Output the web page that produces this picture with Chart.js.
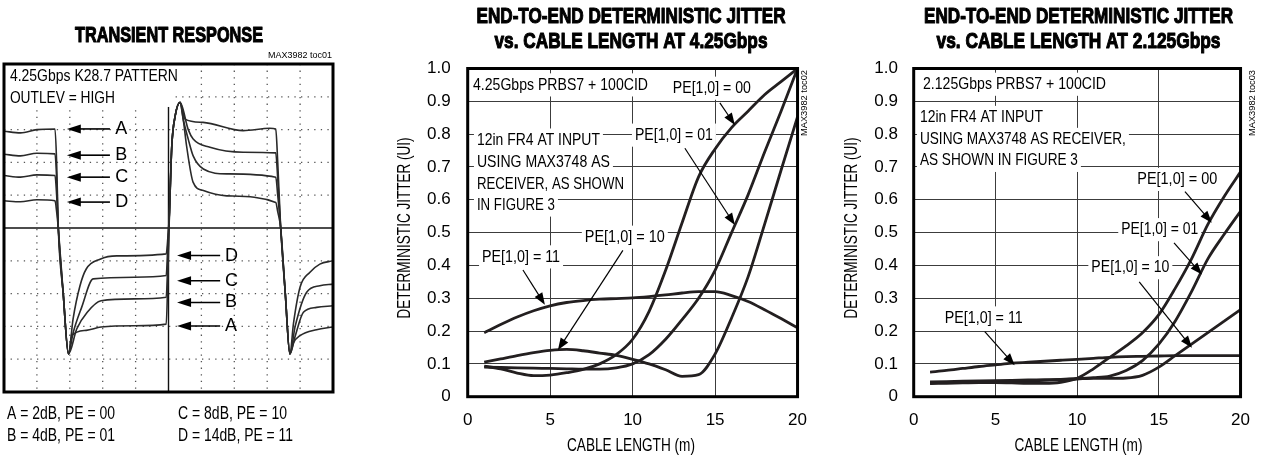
<!DOCTYPE html>
<html>
<head>
<meta charset="utf-8">
<script src="https://cdn.jsdelivr.net/npm/chart.js@4.4.1/dist/chart.umd.min.js"></script>
<style>
  body { margin: 0; background: #fff; width: 1263px; height: 456px; overflow: hidden; position: relative; }
  .panel { position: absolute; top: 0; height: 456px; }
</style>
</head>
<body>
<div class="panel" style="left:0;width:345px"><canvas id="scope"></canvas></div>
<div class="panel" style="left:380px;width:440px"><canvas id="jit425"></canvas></div>
<div class="panel" style="left:830px;width:433px"><canvas id="jit2125"></canvas></div>
<script>
// ---- data ----
const seriesLabels = ['PE[1,0] = 00', 'PE[1,0] = 01', 'PE[1,0] = 10', 'PE[1,0] = 11'];
const cableLength = [1, 2, 3, 4, 5, 6, 7, 8, 9, 10, 11, 12, 13, 14, 15, 16, 17, 18, 19, 20];

// 4.25Gbps, deterministic jitter (UI)
const dj425Pe00 = [0.093, 0.085, 0.072, 0.064, 0.066, 0.073, 0.083, 0.1, 0.128, 0.175, 0.26, 0.385, 0.53, 0.67, 0.755, 0.82, 0.87, 0.92, 0.96, 1.0];
const dj425Pe01 = [0.09, 0.089, 0.088, 0.087, 0.086, 0.085, 0.084, 0.084, 0.088, 0.1, 0.128, 0.175, 0.235, 0.3, 0.385, 0.5, 0.615, 0.745, 0.87, 1.0];
const dj425Pe10 = [0.105, 0.115, 0.125, 0.134, 0.141, 0.144, 0.14, 0.133, 0.126, 0.114, 0.1, 0.082, 0.062, 0.067, 0.13, 0.24, 0.365, 0.525, 0.69, 0.853];
const dj425Pe11 = [0.195, 0.22, 0.243, 0.262, 0.277, 0.287, 0.293, 0.297, 0.299, 0.301, 0.305, 0.31, 0.316, 0.32, 0.32, 0.308, 0.29, 0.265, 0.238, 0.21];

// 2.125Gbps
const dj2125Pe00 = [0.04, 0.041, 0.042, 0.043, 0.043, 0.042, 0.041, 0.041, 0.044, 0.056, 0.085, 0.12, 0.155, 0.195, 0.25, 0.33, 0.42, 0.525, 0.61, 0.685];
const dj2125Pe01 = [0.045, 0.046, 0.047, 0.048, 0.049, 0.05, 0.051, 0.052, 0.053, 0.055, 0.058, 0.063, 0.08, 0.11, 0.16, 0.23, 0.32, 0.42, 0.495, 0.565];
const dj2125Pe10 = [0.042, 0.043, 0.044, 0.045, 0.046, 0.047, 0.048, 0.05, 0.052, 0.054, 0.056, 0.056, 0.057, 0.065, 0.09, 0.125, 0.16, 0.195, 0.23, 0.265];
const dj2125Pe11 = [0.075, 0.08, 0.086, 0.092, 0.097, 0.102, 0.105, 0.108, 0.111, 0.114, 0.117, 0.12, 0.122, 0.123, 0.124, 0.125, 0.125, 0.125, 0.125, 0.125];

// scope traces, in divisions (x 0..10, y -5..5)
const traceA_x = [0, 0.5, 1.0, 1.55, 1.6, 1.65, 1.8, 1.96, 2.06, 2.5, 2.95, 3.96, 4.93, 4.98, 5.03, 5.1, 5.2, 5.35, 5.5, 6.05, 7.27, 8.08, 8.26, 8.32, 8.41, 8.55, 8.69, 8.8, 9.0, 9.5, 10];
const traceA_y = [2.95, 2.9, 3.0, 3.02, 2.0, 0, -2.0, -3.84, -3.28, -3.12, -3.02, -2.98, -2.93, -1.5, 0.5, 2.5, 3.4, 3.83, 3.32, 3.22, 2.97, 3.04, 3.02, 2.0, 0, -2.0, -3.84, -3.5, -3.28, -3.1, -3.02];
const traceB_x = [0, 0.5, 1.0, 1.55, 1.6, 1.65, 1.8, 1.96, 2.21, 2.53, 2.95, 3.96, 4.93, 4.98, 5.03, 5.1, 5.2, 5.35, 5.6, 5.75, 6.26, 7.27, 8.26, 8.32, 8.41, 8.55, 8.69, 8.85, 9.1, 9.5, 10];
const traceB_y = [2.25, 2.2, 2.28, 2.26, 1.5, 0, -2.0, -3.84, -3.08, -2.57, -2.22, -2.16, -2.11, -1.0, 0.5, 2.5, 3.4, 3.83, 3.0, 2.71, 2.46, 2.31, 2.29, 1.5, 0, -2.0, -3.84, -3.3, -2.57, -2.42, -2.37];
const traceC_x = [0, 0.5, 1.0, 1.55, 1.6, 1.65, 1.8, 1.96, 2.1, 2.36, 2.71, 3.96, 4.93, 4.98, 5.03, 5.1, 5.2, 5.35, 5.45, 5.6, 5.75, 6.06, 6.77, 8.26, 8.32, 8.41, 8.55, 8.69, 8.85, 9.2, 9.6, 10];
const traceC_y = [1.6, 1.55, 1.62, 1.6, 1.0, 0, -2.0, -3.84, -3.2, -2.42, -1.55, -1.5, -1.45, -0.5, 0.5, 2.5, 3.4, 3.83, 3.3, 2.71, 2.2, 1.8, 1.65, 1.55, 1.0, 0, -2.0, -3.84, -3.0, -1.96, -1.76, -1.71];
const traceD_x = [0, 0.5, 1.0, 1.55, 1.6, 1.65, 1.8, 1.96, 2.1, 2.31, 2.5, 2.92, 3.43, 4.93, 4.98, 5.03, 5.1, 5.2, 5.35, 5.45, 5.55, 5.75, 6.06, 6.77, 8.26, 8.32, 8.41, 8.55, 8.69, 8.8, 9.0, 9.3, 9.6, 10];
const traceD_y = [0.83, 0.8, 0.86, 0.83, 0.5, 0, -2.0, -3.84, -2.77, -1.76, -1.25, -0.95, -0.85, -0.79, -0.3, 0.5, 2.5, 3.4, 3.83, 3.3, 2.5, 1.39, 1.14, 0.98, 0.78, 0.5, 0, -2.0, -3.84, -2.9, -1.8, -1.35, -1.1, -1.0];

// ---- drawing helpers ----
const FONT = "'Liberation Sans Narrow', 'Liberation Sans', Arial, sans-serif";
const INK = '#231f20';

function drawText(ctx, s, x, y, o) {
    ctx.save();
    ctx.font = (o.bold ? 'bold ' : '') + o.size + 'px ' + FONT;
    ctx.textBaseline = 'middle';
    ctx.textAlign = 'left';
    const w = ctx.measureText(s).width;
    const k = o.width ? o.width / w : 1;
    const tw = w * k;
    const left = o.align === 'center' ? -tw / 2 : 0;
    ctx.translate(x, y);
    if (o.rotate) ctx.rotate(o.rotate);
    if (o.bg) {
        ctx.fillStyle = '#fff';
        ctx.fillRect(left - 3, -o.size * 0.68, tw + 6, o.size * 1.36);
    }
    ctx.scale(k, 1);
    ctx.fillStyle = '#000';
    ctx.fillText(s, left / k, 0);
    if (o.heavy) {
        // fake a black condensed face
        ctx.strokeStyle = '#000';
        ctx.lineWidth = o.heavy;
        ctx.lineJoin = 'round';
        ctx.strokeText(s, left / k, 0);
    }
    ctx.restore();
}

function drawArrow(ctx, x1, y1, x2, y2, lw, head, half) {
    const a = Math.atan2(y2 - y1, x2 - x1);
    ctx.save();
    ctx.strokeStyle = '#000';
    ctx.fillStyle = '#000';
    ctx.lineWidth = lw;
    ctx.beginPath();
    ctx.moveTo(x1, y1);
    ctx.lineTo(x2 - Math.cos(a) * head * 0.8, y2 - Math.sin(a) * head * 0.8);
    ctx.stroke();
    ctx.translate(x2, y2);
    ctx.rotate(a);
    ctx.beginPath();
    ctx.moveTo(0, 0);
    ctx.lineTo(-head, -half);
    ctx.lineTo(-head, half);
    ctx.closePath();
    ctx.fill();
    ctx.restore();
}

function toPoints(xs, ys) {
    return xs.map((x, i) => ({ x: x, y: ys[i] }));
}

// ---- transient response (scope) ----
const scopeUpper = [['A', 3.02], ['B', 2.22], ['C', 1.55], ['D', 0.79]];
const scopeLower = [['D', -0.84], ['C', -1.61], ['B', -2.27], ['A', -2.99]];

const scopePlugin = {
    id: 'scopeDeco',
    beforeDatasetsDraw(chart) {
        const { ctx, chartArea: a, scales: { x, y } } = chart;
        ctx.save();
        ctx.strokeStyle = '#555';
        ctx.lineWidth = 1.3;
        ctx.setLineDash([1.3, 5.3]);
        for (let i = 1; i < 10; i++) {
            if (i === 5) continue;
            const px = x.getPixelForValue(i);
            ctx.beginPath(); ctx.moveTo(px, a.top); ctx.lineTo(px, a.bottom); ctx.stroke();
        }
        for (let j = -4; j <= 4; j++) {
            if (j === 0) continue;
            const py = y.getPixelForValue(j);
            ctx.beginPath(); ctx.moveTo(a.left, py); ctx.lineTo(a.right, py); ctx.stroke();
        }
        ctx.setLineDash([]);
        ctx.strokeStyle = '#111';
        ctx.lineWidth = 1.4;
        const cx = x.getPixelForValue(5), cy = y.getPixelForValue(0);
        ctx.beginPath(); ctx.moveTo(cx, a.top); ctx.lineTo(cx, a.bottom); ctx.stroke();
        ctx.beginPath(); ctx.moveTo(a.left, cy); ctx.lineTo(a.right, cy); ctx.stroke();
        // white box behind the setup text
        ctx.fillStyle = '#fff';
        ctx.fillRect(a.left, a.top, x.getPixelForValue(5.1) - a.left, y.getPixelForValue(3.69) - a.top);
        ctx.restore();

        drawText(ctx, '4.25Gbps K28.7 PATTERN', x.getPixelForValue(0.18), y.getPixelForValue(4.63), { size: 17, width: 168 });
        drawText(ctx, 'OUTLEV = HIGH', x.getPixelForValue(0.18), y.getPixelForValue(3.96), { size: 17, width: 105 });
    },
    afterDatasetsDraw(chart) {
        const { ctx, chartArea: a, scales: { x, y } } = chart;
        scopeUpper.forEach(([t, v]) => {
            const py = y.getPixelForValue(v);
            drawArrow(ctx, x.getPixelForValue(3.22), py, x.getPixelForValue(1.91), py, 1.6, 14, 4.5);
            drawText(ctx, t, x.getPixelForValue(3.38), py, { size: 18 });
        });
        scopeLower.forEach(([t, v]) => {
            const py = y.getPixelForValue(v);
            drawArrow(ctx, x.getPixelForValue(6.57), py, x.getPixelForValue(5.26), py, 1.6, 14, 4.5);
            drawText(ctx, t, x.getPixelForValue(6.72), py, { size: 18 });
        });
        ctx.save();
        ctx.strokeStyle = '#000';
        ctx.lineWidth = 3;
        ctx.strokeRect(a.left, a.top, a.right - a.left, a.bottom - a.top);
        ctx.restore();

        drawText(ctx, 'TRANSIENT RESPONSE', 169, 36, { size: 22, bold: true, heavy: 1.1, width: 188, align: 'center' });
        drawText(ctx, 'MAX3982 toc01', 268, 56, { size: 9, width: 64 });
        drawText(ctx, 'A = 2dB, PE = 00', 7, 414, { size: 18, width: 108 });
        drawText(ctx, 'B = 4dB, PE = 01', 7, 436, { size: 18, width: 108 });
        drawText(ctx, 'C = 8dB, PE = 10', 178, 414, { size: 18, width: 109 });
        drawText(ctx, 'D = 14dB, PE = 11', 178, 436, { size: 18, width: 115 });
    }
};

new Chart(document.getElementById('scope'), {
    type: 'line',
    data: {
        datasets: [
            { label: 'A', data: toPoints(traceA_x, traceA_y) },
            { label: 'B', data: toPoints(traceB_x, traceB_y) },
            { label: 'C', data: toPoints(traceC_x, traceC_y) },
            { label: 'D', data: toPoints(traceD_x, traceD_y) }
        ]
    },
    options: {
        responsive: true,
        maintainAspectRatio: false,
        animation: false,
        layout: { padding: { left: 4, top: 64, right: 12, bottom: 64 } },
        elements: {
            point: { radius: 0 },
            line: { borderColor: '#2a2a2a', borderWidth: 1.6, cubicInterpolationMode: 'monotone' }
        },
        plugins: { legend: { display: false }, tooltip: { enabled: false } },
        scales: {
            x: { type: 'linear', min: 0, max: 10, display: false },
            y: { type: 'linear', min: -5, max: 5, display: false }
        }
    },
    plugins: [scopePlugin]
});

// ---- jitter vs cable length ----
function jitterChart(canvasId, series, cfg) {
    const deco = {
        id: 'jitterDeco',
        beforeDatasetsDraw(chart) {
            const { ctx, scales: { x, y } } = chart;
            cfg.notes.forEach(n => {
                drawText(ctx, n.t, x.getPixelForValue(n.x), y.getPixelForValue(n.y), { size: 17, width: n.w, bg: true });
            });
        },
        afterDatasetsDraw(chart) {
            const { ctx, chartArea: a, scales: { x, y } } = chart;
            cfg.arrows.forEach(r => {
                drawArrow(ctx, x.getPixelForValue(r[0]), y.getPixelForValue(r[1]),
                    x.getPixelForValue(r[2]), y.getPixelForValue(r[3]), 1.2, 12, 4.5);
            });
            ctx.save();
            ctx.strokeStyle = '#000';
            ctx.lineWidth = 3;
            ctx.strokeRect(a.left, a.top, a.right - a.left, a.bottom - a.top);
            ctx.restore();

            drawText(ctx, 'END-TO-END DETERMINISTIC JITTER', cfg.titleX, 17, { size: 22, bold: true, heavy: 1.1, width: 309, align: 'center' });
            drawText(ctx, cfg.title2, cfg.titleX, 42, { size: 22, bold: true, heavy: 1.1, width: cfg.title2W, align: 'center' });
            drawText(ctx, 'DETERMINISTIC JITTER (UI)', cfg.yTitleX, 228, { size: 18, width: 181, align: 'center', rotate: -Math.PI / 2 });
            drawText(ctx, 'CABLE LENGTH (m)', cfg.titleX, 446, { size: 18, width: 128, align: 'center' });
            drawText(ctx, cfg.toc, cfg.tocX, 103, { size: 9, width: 66, align: 'center', rotate: -Math.PI / 2 });
        }
    };

    return new Chart(document.getElementById(canvasId), {
        type: 'line',
        data: {
            datasets: series.map((s, i) => ({
                label: seriesLabels[i],
                data: cableLength.map((len, k) => ({ x: len, y: s[k] }))
            }))
        },
        options: {
            responsive: true,
            maintainAspectRatio: false,
            animation: false,
            layout: { padding: { left: 0, top: 68.5, right: cfg.padRight, bottom: 0 } },
            elements: {
                point: { radius: 0 },
                line: { borderColor: INK, borderWidth: 2.8, cubicInterpolationMode: 'monotone' }
            },
            plugins: { legend: { display: false }, tooltip: { enabled: false } },
            scales: {
                x: {
                    type: 'linear', min: 0, max: 20,
                    ticks: { stepSize: 5, padding: 13, color: '#000', font: { family: FONT, size: 17 } },
                    grid: { color: '#3c3c3c', lineWidth: 1, drawTicks: false },
                    border: { display: false },
                    afterFit: s => { s.height = 59.3; }
                },
                y: {
                    type: 'linear', min: 0, max: 1,
                    ticks: {
                        stepSize: 0.1, padding: cfg.tickPadY, color: '#000', font: { family: FONT, size: 17 },
                        callback: v => (Math.abs(v) < 1e-9 ? '0' : v.toFixed(1))
                    },
                    grid: { color: '#3c3c3c', lineWidth: 1, drawTicks: false },
                    border: { display: false },
                    afterFit: s => { s.width = cfg.yWidth; }
                }
            }
        },
        plugins: [deco]
    });
}

jitterChart('jit425', [dj425Pe00, dj425Pe01, dj425Pe10, dj425Pe11], {
    padRight: 22.3, yWidth: 87.7, tickPadY: 17,
    titleX: 251, yTitleX: 25, tocX: 425,
    title2: 'vs. CABLE LENGTH AT 4.25Gbps', title2W: 273, toc: 'MAX3982 toc02',
    notes: [
        { t: '4.25Gbps PRBS7 + 100CID', x: 0.32, y: 0.95, w: 175 },
        { t: 'PE[1,0] = 00', x: 12.44, y: 0.94, w: 78 },
        { t: '12in FR4 AT INPUT', x: 0.56, y: 0.782, w: 123 },
        { t: 'USING MAX3748 AS', x: 0.56, y: 0.715, w: 133 },
        { t: 'RECEIVER, AS SHOWN', x: 0.56, y: 0.647, w: 147 },
        { t: 'IN FIGURE 3', x: 0.56, y: 0.584, w: 78 },
        { t: 'PE[1,0] = 01', x: 10.14, y: 0.797, w: 78 },
        { t: 'PE[1,0] = 10', x: 7.1, y: 0.486, w: 80 },
        { t: 'PE[1,0] = 11', x: 0.87, y: 0.426, w: 78 }
    ],
    arrows: [
        [15.29, 0.895, 16.2, 0.828],
        [13.17, 0.757, 16.2, 0.523],
        [9.41, 0.446, 5.47, 0.142],
        [3.35, 0.386, 4.68, 0.28]
    ]
});

jitterChart('jit2125', [dj2125Pe00, dj2125Pe01, dj2125Pe10, dj2125Pe11], {
    padRight: 22, yWidth: 83.7, tickPadY: 15.7,
    titleX: 248.5, yTitleX: 21.7, tocX: 422.7,
    title2: 'vs. CABLE LENGTH AT 2.125Gbps', title2W: 284, toc: 'MAX3982 toc03',
    notes: [
        { t: '2.125Gbps PRBS7 + 100CID', x: 0.57, y: 0.952, w: 183 },
        { t: '12in FR4 AT INPUT', x: 0.38, y: 0.851, w: 123 },
        { t: 'USING MAX3748 AS RECEIVER,', x: 0.38, y: 0.784, w: 206 },
        { t: 'AS SHOWN IN FIGURE 3', x: 0.38, y: 0.72, w: 158 },
        { t: 'PE[1,0] = 00', x: 13.68, y: 0.662, w: 80 },
        { t: 'PE[1,0] = 01', x: 12.7, y: 0.509, w: 77 },
        { t: 'PE[1,0] = 10', x: 10.87, y: 0.393, w: 78 },
        { t: 'PE[1,0] = 11', x: 1.9, y: 0.24, w: 78 }
    ],
    arrows: [
        [16.6, 0.625, 18.24, 0.53],
        [15.93, 0.469, 17.64, 0.372],
        [13.8, 0.35, 17.03, 0.149],
        [4.35, 0.198, 6.18, 0.096]
    ]
});
</script>
</body>
</html>
